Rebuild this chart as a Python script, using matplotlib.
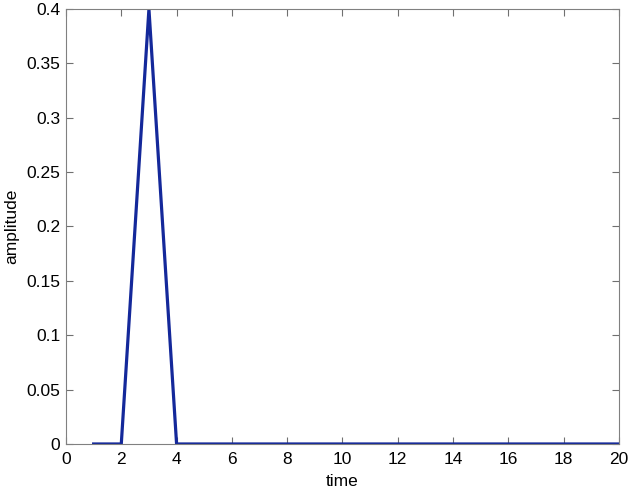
import numpy as np
import matplotlib.pyplot as plt

plt.rcParams['font.family'] = ['Liberation Sans', 'DejaVu Sans']

time = np.arange(1, 21)
amplitude = [0, 0, 0.4, 0, 0, 0, 0, 0, 0, 0, 0, 0, 0, 0, 0, 0, 0, 0, 0, 0]

fig = plt.figure(figsize=(6.32, 4.92), dpi=100)
ax = fig.add_axes([0.1044, 0.0976, 0.8750, 0.8841])
ax.plot(time, amplitude, color='#14289a', linewidth=2.3)

ax.set_xlim(0, 20)
ax.set_ylim(0, 0.4)
ax.set_xticks(np.arange(0, 21, 2))
ax.set_yticks(np.arange(0, 0.41, 0.05))
ax.set_yticklabels(['0', '0.05', '0.1', '0.15', '0.2', '0.25', '0.3', '0.35', '0.4'])
ax.tick_params(direction='in', length=5, color='#707070', labelsize=12.5, top=True, right=True, pad=4)
ax.tick_params(axis='x', pad=6)
for s in ax.spines.values():
    s.set_color('#808080')
ax.set_xlabel('time', fontsize=12.5, labelpad=5)
ax.set_ylabel('amplitude', fontsize=12.5, labelpad=5)

fig.savefig('out.png', dpi=100)
